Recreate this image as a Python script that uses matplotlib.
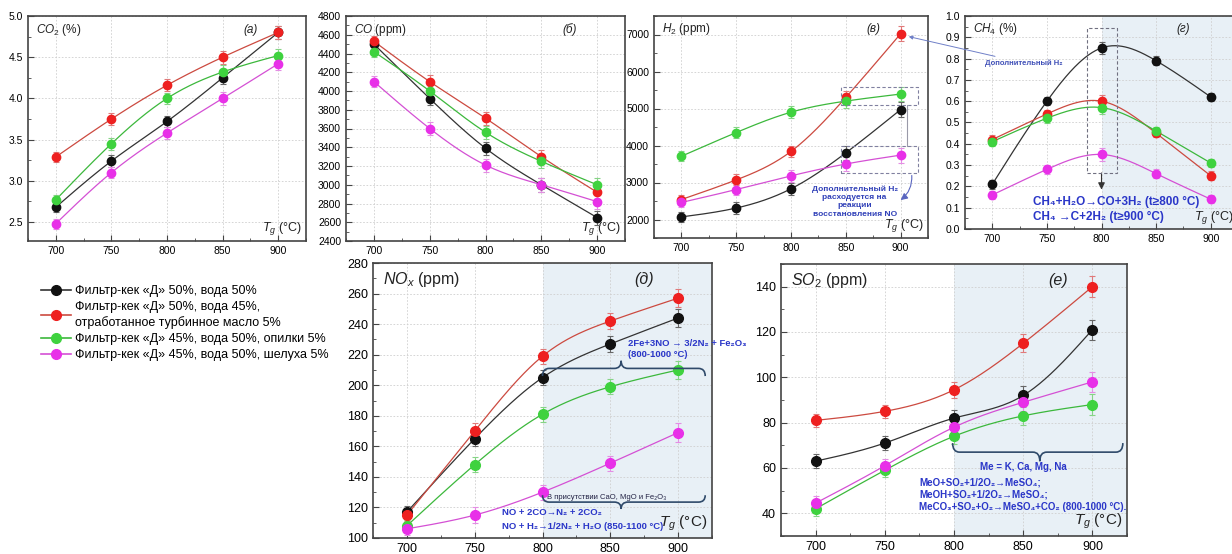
import numpy as np
import matplotlib
matplotlib.use('Agg')
import matplotlib.pyplot as plt
from matplotlib.lines import Line2D
from matplotlib.patches import Rectangle, PathPatch
from matplotlib.path import Path
from matplotlib.ticker import MultipleLocator

plt.rcParams['font.family'] = ['Liberation Sans', 'DejaVu Sans']
plt.rcParams['mathtext.fontset'] = 'custom'
plt.rcParams['mathtext.rm'] = 'Liberation Sans'
plt.rcParams['mathtext.it'] = 'Liberation Sans:italic'

# temperatures and series (order: black, red, green, magenta)
temps = [700, 750, 800, 850, 900]
legend_labels = ['Фильтр-кек «Д» 50%, вода 50%',
                 'Фильтр-кек «Д» 50%, вода 45%,\nотработанное турбинное масло 5%',
                 'Фильтр-кек «Д» 45%, вода 50%, опилки 5%',
                 'Фильтр-кек «Д» 45%, вода 50%, шелуха 5%']

co2 = [[2.68, 3.24, 3.72, 4.25, 4.80],
       [3.29, 3.75, 4.16, 4.50, 4.80],
       [2.77, 3.45, 4.00, 4.32, 4.52],
       [2.48, 3.10, 3.58, 4.00, 4.42]]
co2_err = [0.06, 0.07, 0.07, 0.08, 0.08]

co = [[4500, 3920, 3390, 3000, 2650],
      [4530, 4100, 3710, 3300, 2920],
      [4420, 4000, 3560, 3250, 3000],
      [4100, 3600, 3210, 3000, 2820]]
co_err = [60, 70, 70, 75, 75]

h2 = [[2070, 2310, 2830, 3800, 4970],
      [2540, 3070, 3840, 5300, 7020],
      [3710, 4350, 4900, 5200, 5390],
      [2460, 2810, 3180, 3500, 3740]]
h2_err = [130, 150, 160, 180, 200]

ch4 = [[0.21, 0.60, 0.85, 0.79, 0.62],
       [0.42, 0.54, 0.60, 0.45, 0.25],
       [0.41, 0.52, 0.57, 0.46, 0.31],
       [0.16, 0.28, 0.35, 0.26, 0.14]]
ch4_err = [0.02, 0.02, 0.03, 0.02, 0.02]

nox = [[117, 165, 205, 227, 244],
       [115, 170, 219, 242, 257],
       [108, 148, 181, 199, 210],
       [106, 115, 130, 149, 169]]
nox_err = [4, 5, 5, 5, 6]

so2 = [[63, 71, 82, 92, 121],
       [81, 85, 94.5, 115, 140],
       [42, 59, 74, 83, 88],
       [44.5, 61, 78, 89, 98]]
so2_err = [3, 3, 3.5, 4, 4.5]

mcol = ['#111111', '#ee2020', '#3fd23f', '#e830e8']
lcol = ['#333333', '#cc4a40', '#3cb83c', '#d450d4']
ecol = ['#666666', '#e07a7a', '#86d486', '#e48ee4']
blue = '#2a36c8'

W, H = 1232, 554


def rect(l, t, r, b):
    return [l / W, 1 - b / H, (r - l) / W, (b - t) / H]


def spline(x, y, n=200):
    # natural cubic spline, only for drawing the smooth line through the points
    x = np.asarray(x, float)
    y = np.asarray(y, float)
    k = len(x)
    h = np.diff(x)
    A = np.zeros((k, k))
    b = np.zeros(k)
    A[0, 0] = A[-1, -1] = 1
    for i in range(1, k - 1):
        A[i, i - 1] = h[i - 1]
        A[i, i] = 2 * (h[i - 1] + h[i])
        A[i, i + 1] = h[i]
        b[i] = 3 * ((y[i + 1] - y[i]) / h[i] - (y[i] - y[i - 1]) / h[i - 1])
    c = np.linalg.solve(A, b)
    xs = np.linspace(x[0], x[-1], n)
    idx = np.clip(np.searchsorted(x, xs) - 1, 0, k - 2)
    dx = xs - x[idx]
    bb = (y[idx + 1] - y[idx]) / h[idx] - h[idx] * (2 * c[idx] + c[idx + 1]) / 3
    d = (c[idx + 1] - c[idx]) / (3 * h[idx])
    return xs, y[idx] + bb * dx + c[idx] * dx ** 2 + d * dx ** 3


def panel(box, data, err, ylim, ymaj, ymin, ylab, letter, big=False, shade=False):
    ax = fig.add_axes(rect(*box))
    fs_tick = 9 if big else 7.5
    fs_lab = 11.5 if big else 8.5
    ms = 7 if big else 6
    ax.set_xlim(675, 925)
    ax.set_ylim(*ylim)
    if shade:
        ax.axvspan(800, 925, color='#e8f0f6', zorder=0, lw=0)
    for i, ser in enumerate(data):
        xs, ys = spline(temps, ser)
        ax.plot(xs, ys, color=lcol[i], lw=0.9, zorder=3)
        ax.errorbar(temps, ser, yerr=err, fmt='none', ecolor=ecol[i],
                    elinewidth=0.8, capsize=2, capthick=0.8, zorder=4)
        ax.plot(temps, ser, 'o', color=mcol[i], ms=ms, zorder=5)
    ax.xaxis.set_major_locator(MultipleLocator(50))
    ax.xaxis.set_minor_locator(MultipleLocator(25))
    ax.yaxis.set_major_locator(MultipleLocator(ymaj))
    ax.yaxis.set_minor_locator(MultipleLocator(ymin))
    ax.tick_params(which='both', direction='in', labelsize=fs_tick, color='#444444')
    ax.tick_params(which='major', length=4)
    ax.tick_params(which='minor', length=2)
    ax.grid(True, color='#cfcfcf', ls=(0, (2, 2)), lw=0.6)
    ax.set_axisbelow(True)
    for s in ax.spines.values():
        s.set_color('#444444')
        s.set_linewidth(1.2)
    ax.text(0.03, 0.94, ylab, transform=ax.transAxes, fontsize=fs_lab,
            ha='left', va='center', color='#222222')
    ax.text(0.80, 0.94, letter, transform=ax.transAxes, fontsize=fs_lab,
            ha='center', va='center', style='italic', color='#222222')
    ax.text(0.985, 0.055, r'$T_g$ (°C)', transform=ax.transAxes,
            fontsize=11 if big else 9, ha='right', va='center', color='#222222')
    return ax


def brace(ax, x0, x1, xm, y, d, r, up=True):
    s = 1 if up else -1
    verts = [(x0, y - s * d), (x0, y), (x0 + r, y),
             (xm - r, y), (xm, y), (xm, y + s * d),
             (xm, y), (xm + r, y),
             (x1 - r, y), (x1, y), (x1, y - s * d)]
    codes = [Path.MOVETO, Path.CURVE3, Path.CURVE3,
             Path.LINETO, Path.CURVE3, Path.CURVE3,
             Path.CURVE3, Path.CURVE3,
             Path.LINETO, Path.CURVE3, Path.CURVE3]
    ax.add_patch(PathPatch(Path(verts, codes), fc='none', ec='#2f4a6a',
                           lw=1.2, clip_on=False, zorder=6))


fig = plt.figure(figsize=(W / 100, H / 100), dpi=100)

ax_a = panel((28, 16, 306, 241), co2, co2_err, (2.27, 5.0), 0.5, 0.25,
             r'$CO_2$ (%)', '(а)')
ax_b = panel((346, 16, 625, 241), co, co_err, (2400, 4800), 200, 100,
             r'$CO$ (ppm)', '(б)')
ax_v = panel((654, 16, 928, 238), h2, h2_err, (1500, 7500), 1000, 500,
             r'$H_2$ (ppm)', '(в)')
ax_g = panel((965, 16, 1238, 229), ch4, ch4_err, (0, 1.0), 0.1, 0.05,
             r'$CH_4$ (%)', '(г)', shade=True)
ax_d = panel((373, 263, 712, 538), nox, nox_err, (100, 280), 20, 10,
             r'$NO_x$ (ppm)', '(д)', big=True, shade=True)
ax_e = panel((781, 264, 1127, 536), so2, so2_err, (30, 150), 20, 10,
             r'$SO_2$ (ppm)', '(е)', big=True, shade=True)

# panel в annotations
for y0, y1 in [(5090, 5575), (3265, 3990)]:
    ax_v.add_patch(Rectangle((846, y0), 70, y1 - y0, fill=False, ec='#8080a0',
                             ls=(0, (3, 2)), lw=0.8, zorder=6))
ax_v.plot([906, 906], [5090, 3990], color='#9a9aa8', lw=0.8, zorder=6)
ax_v.annotate('', xy=(898, 2480), xytext=(910, 3265),
              arrowprops=dict(arrowstyle='-|>', color='#5a66c0', lw=0.8,
                              connectionstyle='arc3,rad=-0.3'), zorder=6)
ax_v.text(858, 2484, 'Дополнительный H₂\nрасходуется на\nреакции\nвосстановления NO',
          fontsize=6, fontweight='bold', color='#3040b8', ha='center', va='center',
          linespacing=1.25)

# panel г annotations
ax_g.annotate('Дополнительный H₂', xy=(905, 6960), xycoords=ax_v.transData,
              xytext=(693, 0.78), textcoords='data', fontsize=5.5,
              fontweight='bold', color='#4050b8', ha='left', va='center',
              arrowprops=dict(arrowstyle='-|>', color='#7080c8', lw=0.7,
                              shrinkA=0, shrinkB=2),
              annotation_clip=False, zorder=7)
ax_g.add_patch(Rectangle((787, 0.263), 27, 0.68, fill=False, ec='#707080',
                         ls=(0, (3, 2)), lw=0.8, zorder=6))
ax_g.annotate('', xy=(800, 0.185), xytext=(800, 0.263),
              arrowprops=dict(arrowstyle='-|>', color='#333333', lw=0.8,
                              shrinkA=0, shrinkB=0))
ax_g.text(737, 0.127, 'CH₄+H₂O→CO+3H₂ (t≥800 °C)', fontsize=8.5,
          fontweight='bold', color=blue, ha='left', va='center')
ax_g.text(737, 0.056, 'CH₄ →C+2H₂ (t≥900 °C)', fontsize=8.5,
          fontweight='bold', color=blue, ha='left', va='center')

# panel д annotations
brace(ax_d, 800, 920, 858, 211, 5, 5, up=True)
brace(ax_d, 800, 920, 858, 123.5, 4.5, 5, up=False)
ax_d.text(863, 227.6, '2Fe+3NO → 3/2N₂ + Fe₂O₃', fontsize=6.8, fontweight='bold',
          color=blue, ha='left', va='center')
ax_d.text(863, 220, '(800-1000 °C)', fontsize=6.8, fontweight='bold',
          color=blue, ha='left', va='center')
ax_d.text(803, 126.8, 'В присутствии CaO, MgO и Fe₂O₃', fontsize=5.5,
          color='#222244', ha='left', va='center')
ax_d.text(770, 117, 'NO + 2CO→N₂ + 2CO₂', fontsize=6.8, fontweight='bold',
          color=blue, ha='left', va='center')
ax_d.text(770, 107.4, 'NO + H₂→1/2N₂ + H₂O (850-1100 °C)', fontsize=6.8,
          fontweight='bold', color=blue, ha='left', va='center')

# panel е annotations
brace(ax_e, 799, 922, 862, 67, 4, 5, up=False)
ax_e.text(850, 60.4, 'Me = K, Ca, Mg, Na', fontsize=7, fontweight='bold',
          color=blue, ha='center', va='center')
ax_e.text(775, 53.6, 'MeO+SO₂+1/2O₂→MeSO₄;', fontsize=7, fontweight='bold',
          color=blue, ha='left', va='center')
ax_e.text(775, 48.3, 'MeOH+SO₂+1/2O₂→MeSO₄;', fontsize=7, fontweight='bold',
          color=blue, ha='left', va='center')
ax_e.text(775, 43, 'MeCO₃+SO₂+O₂→MeSO₄+CO₂ (800-1000 °C).', fontsize=7,
          fontweight='bold', color=blue, ha='left', va='center')

# legend
handles = [Line2D([], [], color=lcol[i], marker='o', mfc=mcol[i], mec=mcol[i],
                  ms=7, lw=1.2) for i in range(4)]
leg = fig.legend(handles, legend_labels, loc='upper left',
                 bbox_to_anchor=(30 / W, 1 - 274 / H), frameon=False, fontsize=9,
                 handlelength=2.4, handletextpad=0.3, labelspacing=0.3)
leg.get_texts()[1].set_linespacing(1.35)

fig.savefig('out.png', dpi=100)
